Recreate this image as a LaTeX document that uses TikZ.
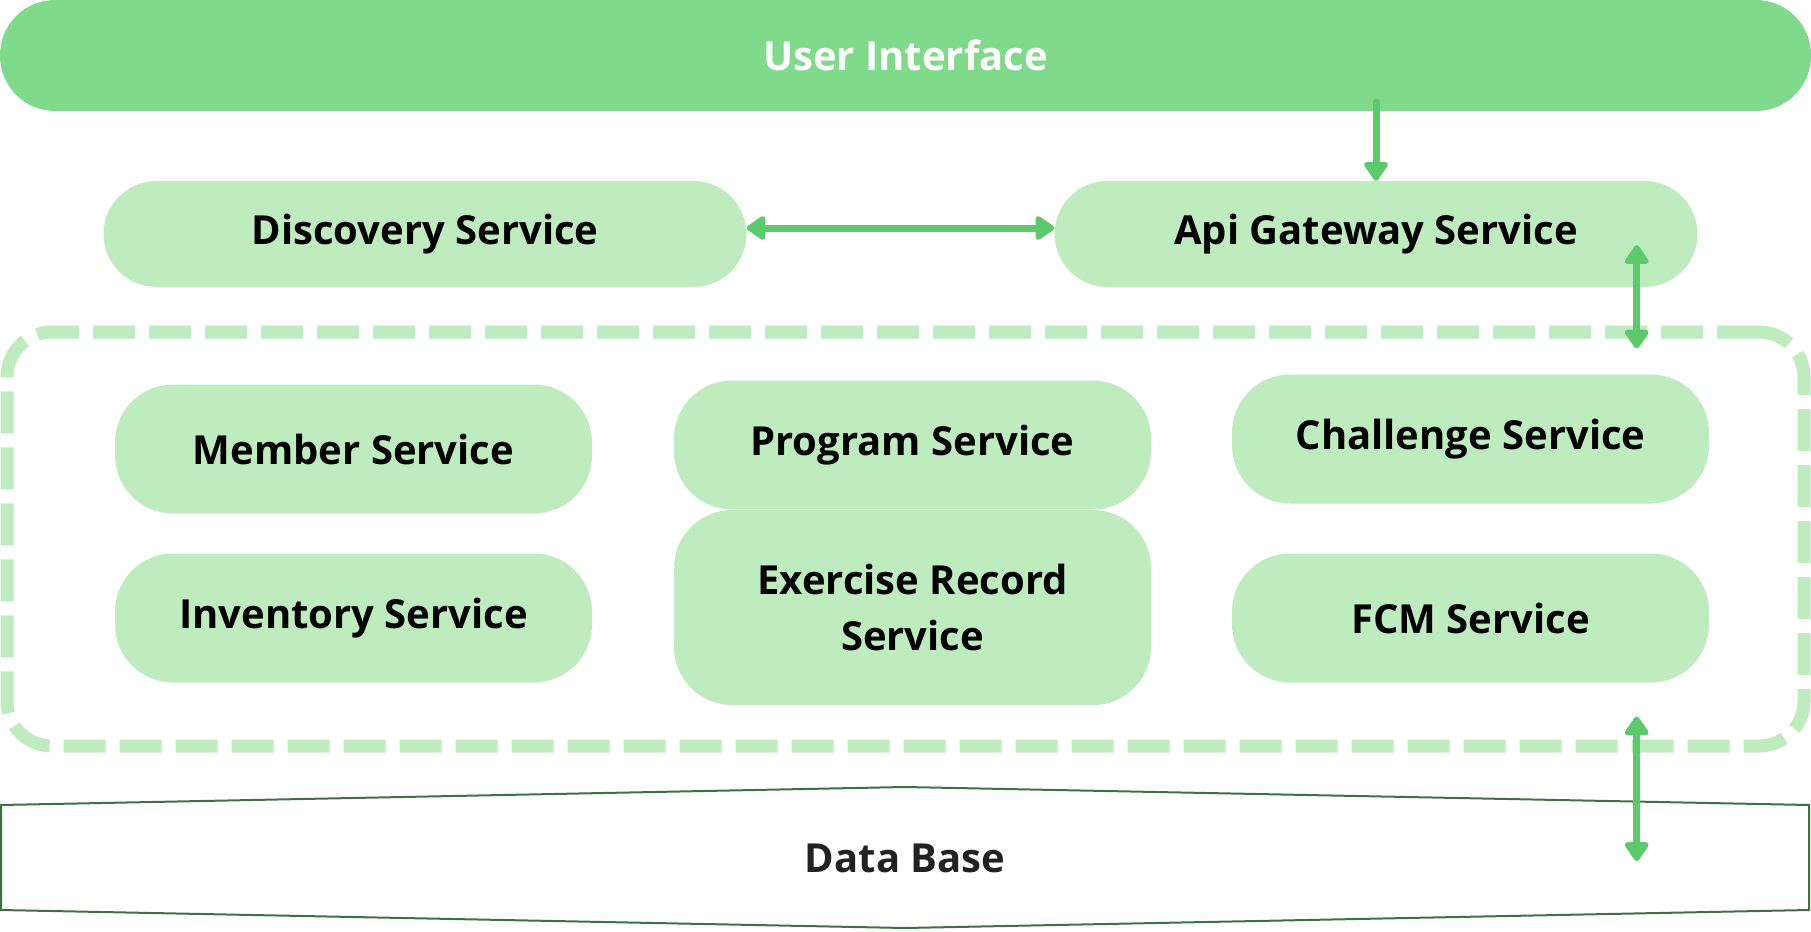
\documentclass[tikz,border=0pt]{standalone}
\usepackage{fontspec}
\setmainfont{Open Sans}
\usetikzlibrary{arrows.meta, positioning}
\definecolor{uigreen}{HTML}{7FDB8B}
\definecolor{boxgreen}{HTML}{BEECBE}
\definecolor{arrowgreen}{HTML}{5CC96B}
\definecolor{dbline}{HTML}{3F7040}
\definecolor{dbtext}{HTML}{222222}

\tikzset{
  label font/.style={font=\fontsize{40}{56}\selectfont\bfseries},
  svcbox/.style={fill=boxgreen, rounded corners=58pt, minimum width=477pt,
    minimum height=129pt, inner sep=0pt, align=center, label font},
  topbox/.style={fill=boxgreen, rounded corners=53pt, minimum width=643pt,
    minimum height=106pt, inner sep=0pt, label font},
  frame/.style={draw=boxgreen, line width=13pt, dash pattern=on 42pt off 14pt,
    rounded corners=45pt, minimum width=1797pt, minimum height=414pt},
  link/.style={draw=arrowgreen, line width=7pt, line cap=round,
    >={Triangle[round, length=21pt, width=27pt]}},
}

\begin{document}
\begin{tikzpicture}[x=1pt, y=-1pt]
\useasboundingbox (0,0) rectangle (1811,931);

% top row
\node[fill=uigreen, rounded corners=55pt, minimum width=1811pt, minimum height=111pt,
  inner sep=0pt, text=white, label font] (ui) at (905.5,55.5) {User Interface};
\node[topbox] (disc) at (425,234) {Discovery Service};
\node[topbox] (api) at (1376,234) {Api Gateway Service};

% services
\node[frame] (core) at (905.5,539) {};
\node[svcbox] (member) at (353.5,449) {Member Service};
\node[svcbox] (program) at (912.5,445) {Program Service};
\node[svcbox] (challenge) at (1470.5,439) {Challenge Service};
\node[svcbox] (inventory) at (353.5,618) {Inventory Service};
\node[svcbox, minimum height=195pt] (exercise) at (912.5,607.5) {Exercise Record\\Service};
\node[svcbox] (fcm) at (1470.5,618) {FCM Service};

% data base
\draw[dbline, line width=2pt] (1,805) -- (905,787) -- (1809,805) -- (1809,910)
  -- (905,928) -- (1,910) -- cycle;
\node[label font, text=dbtext] (db) at (905,858) {Data Base};

% connectors
\coordinate (gport) at ([shift={(-61pt,42pt)}]api.south east);
\draw[link, ->] ([yshift=9pt]ui.south -| api.north) -- (api.north);
\draw[link, <->] ([yshift=6pt]disc.east) -- ([yshift=6pt]api.west);
\draw[link, <->] (gport) -- ([yshift=-23pt]core.north -| gport);
\draw[link, <->] ([yshift=36pt]core.south -| gport) -- ([yshift=-3pt]db.center -| gport);
\end{tikzpicture}
\end{document}
